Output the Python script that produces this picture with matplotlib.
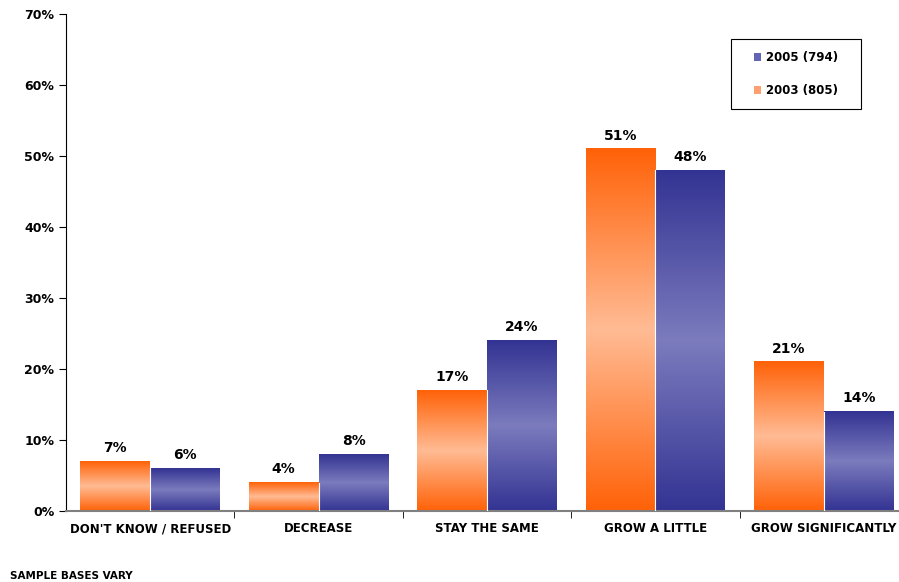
import numpy as np
import matplotlib.pyplot as plt
from matplotlib.colors import LinearSegmentedColormap
from matplotlib.patches import Patch, Rectangle

categories = ["DON'T KNOW / REFUSED", "DECREASE", "STAY THE SAME", "GROW A LITTLE", "GROW SIGNIFICANTLY"]
vals_2003 = [7, 4, 17, 51, 21]
vals_2005 = [6, 8, 24, 48, 14]
series_names = ["2005 (794)", "2003 (805)"]

plt.rcParams["font.family"] = ["DejaVu Sans"]
plt.rcParams["font.weight"] = "bold"

orange_cm = LinearSegmentedColormap.from_list("og", ["#ff6208", "#ffbb94", "#ff6208"])
blue_cm = LinearSegmentedColormap.from_list("bl", ["#333393", "#7b7bbe", "#333393"])

fig = plt.figure(figsize=(8.99, 5.82), dpi=100)
ax = fig.add_axes([66/899, 71/582, 842/899, 497/582])

grad = np.linspace(0, 1, 256).reshape(-1, 1)
w = 0.415
x = np.arange(len(categories))

def gbar(x0, h, cmap):
    ax.imshow(grad, cmap=cmap, extent=[x0, x0 + w, 0, h], aspect="auto",
              origin="lower", interpolation="bilinear", zorder=2)

for i in x:
    gbar(i - w, vals_2003[i], orange_cm)
    gbar(i, vals_2005[i], blue_cm)
    # thin white seam between the paired bars
    ax.plot([i, i], [0, min(vals_2003[i], vals_2005[i])], color="white", lw=0.8, zorder=3)
    ax.text(i - w/2, vals_2003[i] + 0.9, f"{vals_2003[i]}%", ha="center", va="bottom",
            fontsize=10, fontweight="bold")
    ax.text(i + w/2, vals_2005[i] + 0.9, f"{vals_2005[i]}%", ha="center", va="bottom",
            fontsize=10, fontweight="bold")

ax.set_xlim(-0.5, len(categories) - 0.5)
ax.set_ylim(0, 70)
ax.set_yticks(range(0, 71, 10))
ax.set_yticklabels([f"{v}%" for v in range(0, 71, 10)], fontsize=9, fontweight="bold")
ax.set_xticks(x)
ax.set_xticklabels(categories, fontsize=8.5, fontweight="bold")
ax.tick_params(axis="x", length=0, pad=8)
ax.set_xticks(np.arange(0.5, len(categories) - 0.5), minor=True)
ax.tick_params(axis="x", which="minor", length=5, color="black")
ax.tick_params(axis="y", length=5, direction="out")
for s in ["top", "right"]:
    ax.spines[s].set_visible(False)
ax.spines["bottom"].set_color("#808080")
ax.spines["bottom"].set_linewidth(1.5)

# legend box drawn separately so the padding can be wider than tall
fig.patches.append(Rectangle((731/899, 1 - 109/582), 130/899, 70/582, transform=fig.transFigure,
                             facecolor="white", edgecolor="black", lw=0.8, zorder=4))
handles = [Patch(facecolor="#6464b4", edgecolor="none"), Patch(facecolor="#ffa070", edgecolor="none")]
leg = fig.legend(handles, series_names, loc="center", bbox_to_anchor=(796/899, 1 - 74/582),
                 frameon=False, handlelength=0.6, handleheight=0.6, handletextpad=0.4,
                 labelspacing=1.7, borderpad=0, borderaxespad=0,
                 prop={"weight": "bold", "size": 8.5})
leg.set_zorder(5)

fig.text(10/899, 1 - 576/582, "SAMPLE BASES VARY", fontsize=7.5, fontweight="bold", va="center")

fig.savefig("out.png", dpi=100)
